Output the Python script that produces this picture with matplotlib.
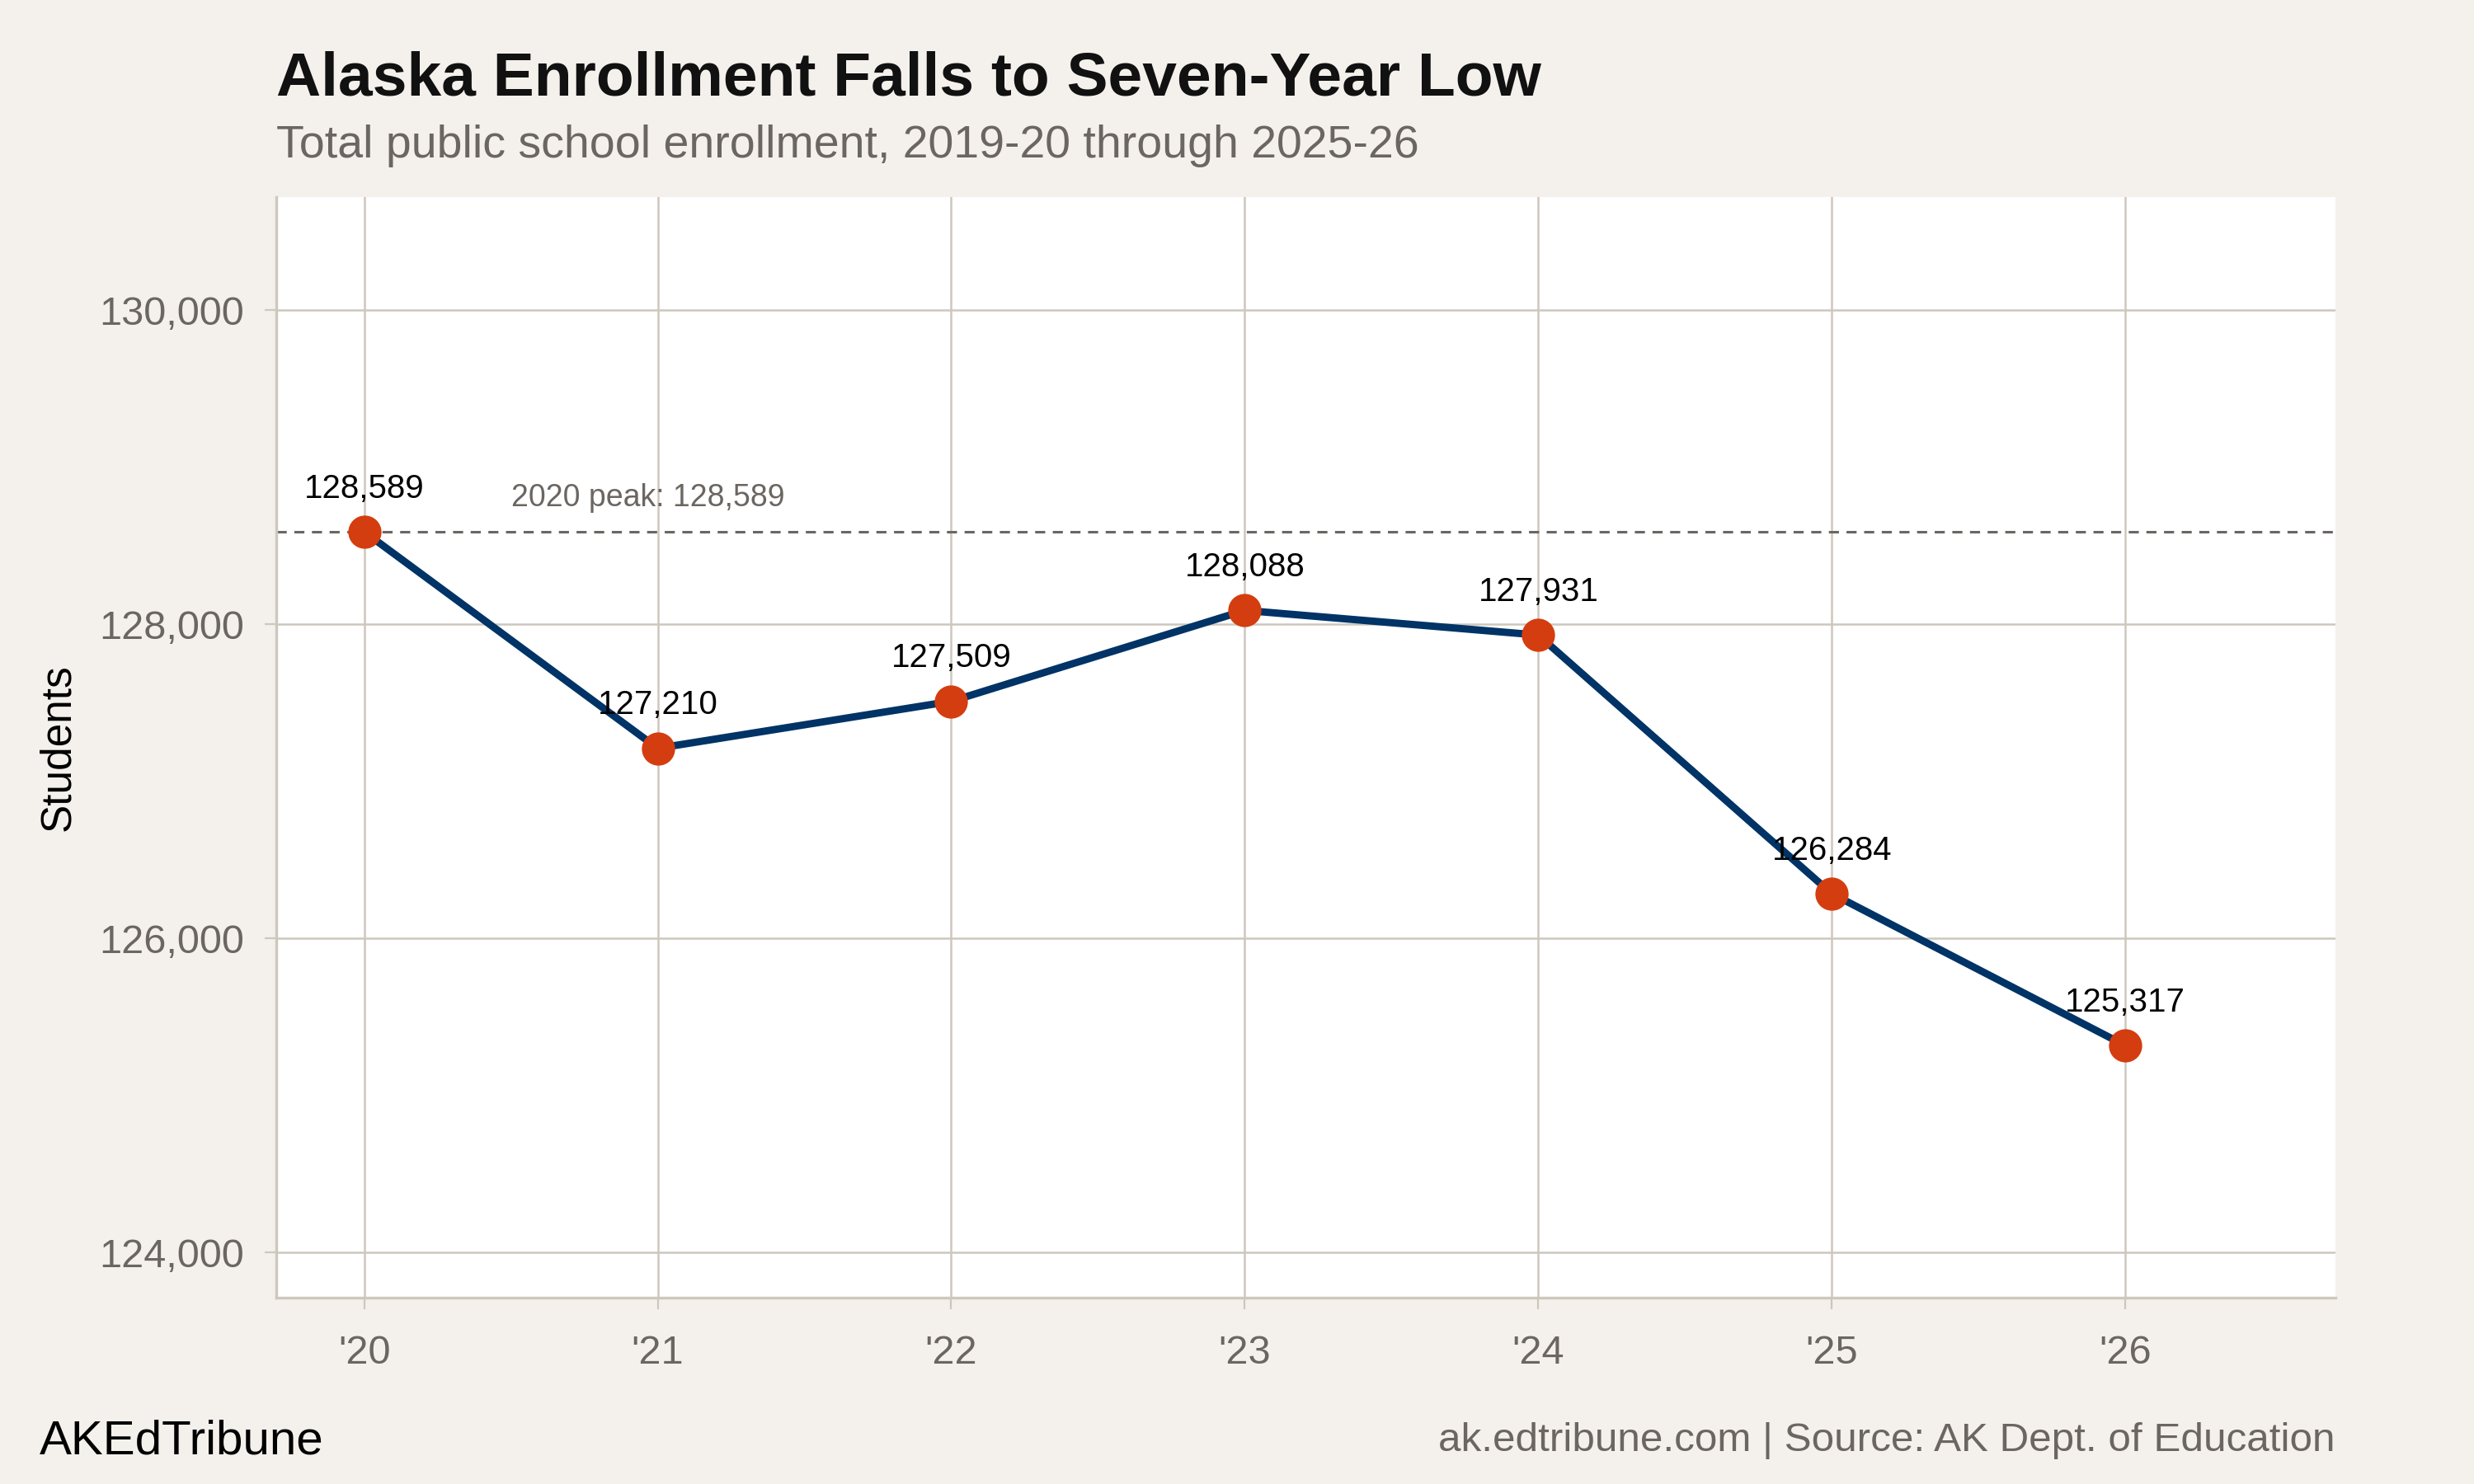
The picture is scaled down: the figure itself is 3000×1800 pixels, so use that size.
import numpy as np
import matplotlib
matplotlib.use('Agg')
import matplotlib.pyplot as plt
from matplotlib.ticker import FuncFormatter

# data
years = [20, 21, 22, 23, 24, 25, 26]
year_labels = ["'20", "'21", "'22", "'23", "'24", "'25", "'26"]
enrollment = [128589, 127210, 127509, 128088, 127931, 126284, 125317]
y_ticks = [124000, 126000, 128000, 130000]
peak = 128589

bg = '#f4f1ec'
grid_col = '#cdc7bd'
navy = '#003366'
orange = '#d43d0f'
gray_txt = '#6b6661'

plt.rcParams['font.family'] = ['Liberation Sans', 'DejaVu Sans']

fig = plt.figure(figsize=(15, 9), dpi=200, facecolor=bg)
ax = fig.add_axes([0.1116, 0.1254, 0.8323, 0.7418])
ax.set_facecolor('white')

ax.plot(years, enrollment, '-', color=navy, linewidth=3.2, zorder=3, solid_capstyle='round')
ax.plot(years, enrollment, 'o', color=orange, markersize=13.5, zorder=4)

# peak reference line
ax.axhline(peak, color='#6b6661', linestyle=(0, (4, 3)), linewidth=1.1, zorder=2)
ax.text(20.5, peak + 120, '2020 peak: {:,}'.format(peak), fontsize=13.5,
        color=gray_txt, ha='left', va='bottom')

for x, y in zip(years, enrollment):
    ax.annotate('{:,}'.format(y), (x, y), xytext=(0, 12), textcoords='offset points',
                ha='center', va='bottom', fontsize=14.5, color='black', zorder=5)

ax.set_xlim(19.7, 26.715)
ax.set_ylim(123710, 130720)
ax.set_xticks(years)
ax.set_xticklabels(year_labels)
ax.set_yticks(y_ticks)
ax.yaxis.set_major_formatter(FuncFormatter(lambda v, p: '{:,.0f}'.format(v)))

ax.grid(True, color=grid_col, linewidth=0.9, zorder=0)
ax.set_axisbelow(True)
for s in ['top', 'right']:
    ax.spines[s].set_visible(False)
for s in ['left', 'bottom']:
    ax.spines[s].set_color(grid_col)
    ax.spines[s].set_linewidth(1.2)
ax.tick_params(axis='both', colors=grid_col, labelcolor=gray_txt, labelsize=17.5,
               length=5, width=0.8)
ax.tick_params(axis='x', pad=11)
ax.tick_params(axis='y', pad=9)

ax.set_ylabel('Students', fontsize=18.5, color='black', labelpad=9)

fig.text(0.1116, 0.936, 'Alaska Enrollment Falls to Seven-Year Low', fontsize=27,
         fontweight='bold', color='#111111', ha='left', va='baseline')
fig.text(0.1116, 0.894, 'Total public school enrollment, 2019-20 through 2025-26',
         fontsize=20, color=gray_txt, ha='left', va='baseline')
fig.text(0.016, 0.02, 'AKEdTribune', fontsize=21, color='black', ha='left', va='baseline')
fig.text(0.944, 0.022, 'ak.edtribune.com | Source: AK Dept. of Education', fontsize=17.8,
         color=gray_txt, ha='right', va='baseline')

fig.savefig('out.png', dpi=200, facecolor=bg)
